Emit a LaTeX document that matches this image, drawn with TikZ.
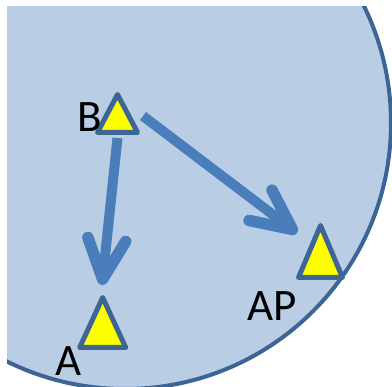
\documentclass[tikz,border=0pt]{standalone}
\usepackage{fontspec}
\setmainfont{Carlito}
\usetikzlibrary{arrows.meta,calc}
\definecolor{circfill}{HTML}{B9CDE5}
\definecolor{circline}{RGB}{60,100,148}
\definecolor{triline}{RGB}{62,102,148}
\definecolor{arrowblue}{HTML}{4A7EBB}
\definecolor{triyellow}{HTML}{FFFF00}
\tikzset{
  bubble/.style={fill=circfill, draw=circline, line width=4pt},
  tribox/.style={draw=none, inner sep=0pt, outer sep=0pt, rectangle},
  trishape/.style={fill=triyellow, draw=triline, line width=5pt, line join=round},
  lbl/.style={inner sep=0pt, font=\fontsize{45}{54}\selectfont, text=black},
  bigarrow/.style={draw=arrowblue, line width=10pt,
    -{Straight Barb[length=40pt, width=38pt, line width=11.5pt, round]}}
}
\begin{document}
\begin{tikzpicture}[x=1pt,y=-1pt]
\useasboundingbox (0,0) rectangle (392,387);
\begin{scope}
  \clip (7,7) rectangle (400,387);
  \path[bubble] (125,123) circle (266);
\end{scope}
% triangle nodes
\node[tribox, minimum width=40pt, minimum height=38pt] (B) at (117.5,113.5) {};
\node[tribox, minimum width=46pt, minimum height=50pt] (A) at (102.7,322.5) {};
\node[tribox, minimum width=44pt, minimum height=52pt] (AP) at (320.5,251.5) {};
\foreach \t in {B,A,AP}{
  \draw[trishape] (\t.north) -- (\t.south east) -- (\t.south west) -- cycle;
}
% labels
\node[lbl, anchor=base] (Blbl) at (90,131.5) {B};
\node[lbl, anchor=base] (APlbl) at (272,321) {AP};
\node[lbl, anchor=base] (Albl) at (68.5,376) {A};
% arrow end points
\coordinate (b1) at ($(B.south)+(0,5.5)$);
\coordinate (a1) at ($(A.north)+(-0.7,-12.5)$);
\coordinate (b2) at ($(B.east)+(5.5,2.5)$);
\coordinate (p2) at ($(AP.north west)+(-1.5,7.5)$);
\draw[bigarrow] (b1) -- (a1);
\draw[bigarrow] (b2) -- (p2);
\end{tikzpicture}
\end{document}
